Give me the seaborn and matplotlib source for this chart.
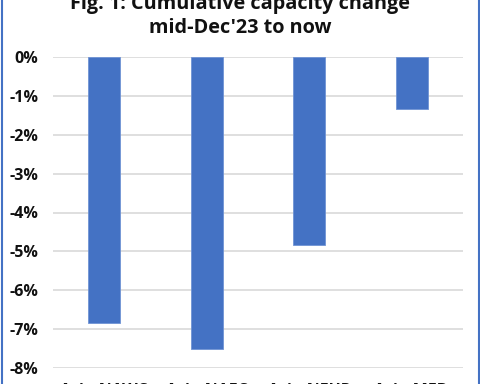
import matplotlib
matplotlib.use("Agg")
import matplotlib.pyplot as plt
import seaborn as sns
import pandas as pd
from matplotlib.lines import Line2D
from matplotlib.ticker import FuncFormatter

routes = ["Asia-NAWC", "Asia-NAEC", "Asia-NEUR", "Asia-MED"]
change_pct = [-6.84, -7.51, -4.83, -1.34]
yticks = [0, -1, -2, -3, -4, -5, -6, -7, -8]

sns.set_theme(style="white")
plt.rcParams["font.family"] = ["Open Sans", "DejaVu Sans"]

df = pd.DataFrame({"route": routes, "change": change_pct})

fig = plt.figure(figsize=(4.8, 3.84), dpi=100)
ax = fig.add_axes([53/480, 1-368/384, 410/480, 311/384])

sns.barplot(data=df, x="route", y="change", color="#4472C4", width=0.31,
            saturation=1, ax=ax, zorder=3, edgecolor="#6f93d4", linewidth=0.6)

ax.set_ylim(-8, 0)
ax.set_yticks(yticks)
ax.yaxis.set_major_formatter(FuncFormatter(lambda v, p: f"{int(round(v))}%"))
ax.grid(axis="y", color="#D9D9D9", linewidth=1.2, zorder=0)
ax.set_axisbelow(True)
for s in ax.spines.values():
    s.set_visible(False)
ax.set_xlabel("")
ax.set_ylabel("")
ax.tick_params(axis="y", length=0, pad=10.5, labelsize=11.5, labelcolor="#111111")
ax.tick_params(axis="x", length=0, pad=10.5, labelsize=11.5, labelcolor="#111111")
for lbl in ax.get_yticklabels() + ax.get_xticklabels():
    lbl.set_fontweight("bold")
ax.set_xlim(-0.5, 3.5)

fig.text(0.5, 1-9/384, "Fig. 1: Cumulative capacity change", ha="center", va="baseline",
         fontsize=14.3, fontweight="bold", color="#111111")
fig.text(0.5, 1-33/384, "mid-Dec'23 to now", ha="center", va="baseline",
         fontsize=14.3, fontweight="bold", color="#111111")

fig.add_artist(Line2D([1.5/480, 1.5/480], [0, 1], transform=fig.transFigure, color="#4472C4", linewidth=1.5))
fig.add_artist(Line2D([478.5/480, 478.5/480], [0, 1], transform=fig.transFigure, color="#4472C4", linewidth=1.5))

fig.savefig("out.png", dpi=100)
